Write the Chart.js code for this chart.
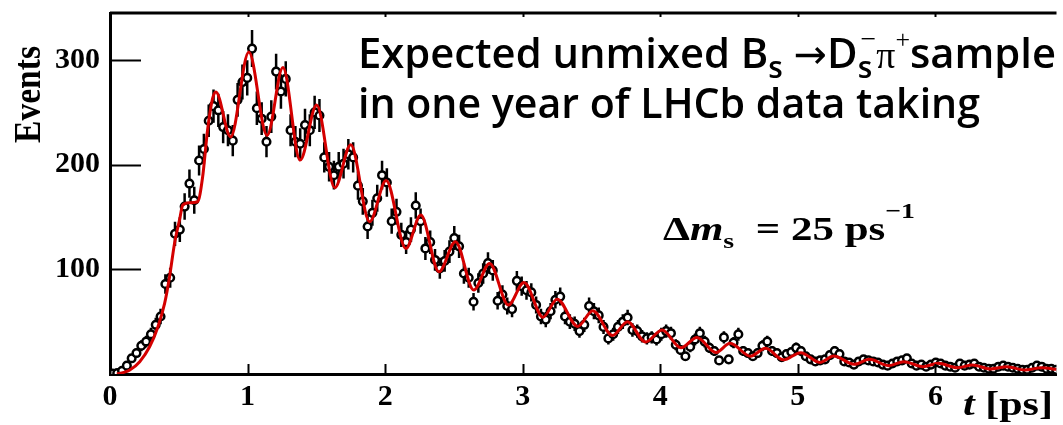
<!DOCTYPE html>
<html>
<head>
<meta charset="utf-8">
<script src="https://cdn.jsdelivr.net/npm/chart.js@4.4.1/dist/chart.umd.min.js"></script>
<title>Bs proper time</title>
<style>
  body { margin: 0; background: #fff; }
  #wrap { position: relative; width: 1063px; height: 425px; }
</style>
</head>
<body>
<div id="wrap"><canvas id="decay"></canvas></div>
<script>
// histogram binning (ps)
const binStart = 0;
const binWidth = 0.035;

// events per bin
const events = [
  0.5, 1, 3, 8, 15, 20, 27, 31, 38, 47,
  55, 86, 92, 134, 138, 160, 182, 166, 204, 215,
  242, 256, 252, 236, 233, 223, 262, 279, 283, 311,
  254, 244, 222, 246, 289, 270, 282, 233, 222, 220,
  238, 233, 250, 247, 207, 198, 190, 198, 201, 210,
  207, 180, 165, 141, 154, 168, 190, 183, 146, 155,
  133, 126, 138, 161, 146, 120, 126, 109, 101, 108,
  117, 130, 122, 96, 92, 69, 87, 96, 106, 99,
  70, 76, 65, 62, 89, 84, 80, 78, 66, 55,
  52, 60, 71, 74, 55, 50, 48, 41, 47, 65,
  60, 56, 45, 34, 38, 45, 50, 54, 42, 41,
  36, 34, 35, 33, 38, 41, 39, 28, 23, 17,
  26, 33, 39, 31, 25, 22, 13, 35, 14, 30,
  38, 22, 20, 17, 20, 27, 31, 22, 20, 16,
  19, 21, 25, 22, 17, 14, 12, 13, 14, 18,
  22, 19, 12, 11, 9, 12, 14, 13, 12, 11,
  9, 8, 10, 12, 13, 15, 10, 8, 9, 7,
  9, 11, 10, 8, 7, 6, 10, 8, 9, 10,
  7, 6, 5, 5, 7, 8, 7, 6, 5, 4,
  4, 6, 8, 7, 5, 5, 4
];

// fit curve: times (ps) and values
const fitT = [
  0.05, 0.10, 0.144, 0.216, 0.288, 0.348, 0.397, 0.433, 0.469, 0.505,
  0.529, 0.577, 0.637, 0.673, 0.709, 0.745, 0.769, 0.877, 1.009, 1.142,
  1.257, 1.382, 1.502, 1.634, 1.75, 1.887, 2.007, 2.151, 2.259, 2.391,
  2.511, 2.644, 2.759, 2.896, 3.009, 3.148, 3.25, 3.40, 3.509, 3.653,
  3.761, 3.893, 4.013, 4.15, 4.266, 4.405, 4.508, 4.655, 4.765, 4.895,
  5.02, 5.16, 5.26, 5.41, 5.52, 5.66, 5.77, 5.91, 6.02, 6.16,
  6.27, 6.40, 6.52, 6.65, 6.77, 6.88
];
const fitV = [
  0, 1.5, 3.8, 11.8, 26, 45, 67.5, 93, 124.8, 147,
  161.4, 163.6, 164.6, 188, 233, 263, 269.6, 226.6, 307.8, 228,
  293, 204.4, 257, 178, 219, 145.5, 185, 120, 152, 97.7,
  126.4, 80.2, 105.7, 66, 87.5, 54.3, 71.5, 45.5, 60.5, 36.8,
  50, 30.5, 42, 25, 35, 20.5, 29.3, 17, 24.5, 13.5,
  20.4, 11.1, 17.2, 9.3, 14, 8, 11.8, 7, 10.2, 6,
  8.6, 4.8, 7, 3.8, 6, 4.5
];

const xTickLabels = ['0', '1', '2', '3', '4', '5', '6'];
const yTickLabels = ['100', '200', '300'];

const evPts = events.map((n, i) => ({ x: binStart + binWidth * (i + 0.5), y: n }));
const fitPts = fitT.map((t, i) => ({ x: t, y: fitV[i] }));

function isStep(v, step) {
  return Math.abs(v / step - Math.round(v / step)) < 1e-6;
}

// draws a row of text pieces, squeezed or stretched to a given width
function drawRuns(ctx, runs, x, y, width) {
  let total = 0;
  runs.forEach(r => {
    ctx.font = r.f;
    r.w = r.adv != null ? r.adv : ctx.measureText(r.t).width;
    total += r.w;
  });
  ctx.save();
  ctx.translate(x, y);
  ctx.scale(width / total, 1);
  let cx = 0;
  runs.forEach(r => {
    ctx.font = r.f;
    ctx.fillText(r.t, cx, r.dy || 0);
    cx += r.w;
  });
  ctx.restore();
}

const errorBars = {
  id: 'errorBars',
  beforeDatasetsDraw(chart) {
    const ctx = chart.ctx, a = chart.chartArea;
    const xs = chart.scales.x, ys = chart.scales.y;
    ctx.save();
    ctx.beginPath();
    ctx.rect(a.left, a.top, a.right - a.left, a.bottom - a.top);
    ctx.clip();
    ctx.strokeStyle = '#000';
    ctx.lineWidth = 2.5;
    chart.data.datasets[1].data.forEach(p => {
      const e = Math.sqrt(p.y);
      const px = xs.getPixelForValue(p.x);
      ctx.beginPath();
      ctx.moveTo(px, ys.getPixelForValue(p.y + e));
      ctx.lineTo(px, ys.getPixelForValue(Math.max(p.y - e, 0)));
      ctx.stroke();
    });
    ctx.restore();
  }
};

const frame = {
  id: 'frame',
  afterDraw(chart) {
    const ctx = chart.ctx, a = chart.chartArea;
    const xs = chart.scales.x, ys = chart.scales.y;
    ctx.save();
    ctx.strokeStyle = '#000';
    ctx.fillStyle = '#000';

    ctx.lineWidth = 3;
    ctx.beginPath();
    ctx.moveTo(a.left, a.top);
    ctx.lineTo(a.right, a.top);
    ctx.stroke();

    // inner tick marks
    ctx.lineWidth = 2;
    xs.ticks.forEach(t => {
      if (!isStep(t.value, 0.2)) return;
      const px = Math.round(xs.getPixelForValue(t.value)) + 0.5;
      const len = isStep(t.value, 1) ? 10 : 6;
      ctx.beginPath();
      ctx.moveTo(px, a.bottom);
      ctx.lineTo(px, a.bottom - len);
      ctx.moveTo(px, a.top);
      ctx.lineTo(px, a.top + 4);
      ctx.stroke();
    });
    ys.ticks.forEach(t => {
      if (!isStep(t.value, 20) || t.value === 0) return;
      const py = Math.round(ys.getPixelForValue(t.value)) + 0.5;
      const len = isStep(t.value, 100) ? 31 : 5;
      ctx.beginPath();
      ctx.moveTo(a.left, py);
      ctx.lineTo(a.left + len, py);
      ctx.stroke();
    });

    // axis titles
    ctx.save();
    ctx.translate(27, 95);
    ctx.rotate(-Math.PI / 2);
    drawRuns(ctx, [{ t: 'Events', f: 'bold 37px "Liberation Serif"' }], -48, 13, 97);
    ctx.restore();
    drawRuns(ctx, [
      { t: 't', f: 'italic bold 33px "Liberation Serif"' },
      { t: ' [ps]', f: 'bold 33px "Liberation Serif"' }
    ], 963, 415, 90);

    // annotations
    const F = '600 42px "Open Sans"', FS = '600 30px "Open Sans"';
    drawRuns(ctx, [
      { t: 'Expected unmixed B', f: F },
      { t: 's', f: FS, dy: 10 },
      { t: ' ', f: F },
      { t: '\u2192', f: '40px "DejaVu Sans"' },
      { t: 'D', f: F },
      { t: 's', f: FS, dy: 10, adv: 3 },
      { t: '\u2212', f: '28px "Liberation Serif"', dy: -20 },
      { t: '\u03c0', f: '38px "Liberation Serif"' },
      { t: '+', f: '26px "Liberation Serif"', dy: -20 },
      { t: 'sample', f: F }
    ], 358, 68, 698);
    drawRuns(ctx, [{ t: 'in one year of LHCb data taking', f: F }], 358, 118, 622);

    drawRuns(ctx, [
      { t: '\u0394', f: 'bold 34px "Liberation Serif"' },
      { t: 'm', f: 'italic bold 34px "Liberation Serif"' },
      { t: 's', f: 'bold 22px "Liberation Serif"', dy: 8 },
      { t: '  = 25 ps', f: 'bold 34px "Liberation Serif"' },
      { t: '\u22121', f: 'bold 22px "Liberation Serif"', dy: -22 }
    ], 663, 240, 252);
    ctx.restore();
  }
};

const tickFont = { family: '"Liberation Serif"', size: 30, weight: 'bold' };

new Chart(document.getElementById('decay'), {
  type: 'scatter',
  data: {
    datasets: [
      {
        label: 'fit',
        data: fitPts,
        showLine: true,
        borderColor: '#d40000',
        borderWidth: 3,
        pointRadius: 0,
        cubicInterpolationMode: 'monotone',
        order: 0
      },
      {
        label: 'events',
        data: evPts,
        pointRadius: 3.8,
        borderWidth: 2.5,
        borderColor: '#000',
        backgroundColor: '#fff',
        order: 1
      }
    ]
  },
  options: {
    responsive: true,
    maintainAspectRatio: false,
    animation: false,
    layout: { padding: { top: 13, right: 0, left: 0, bottom: 0 } },
    plugins: { legend: { display: false }, tooltip: { enabled: false } },
    scales: {
      x: {
        type: 'linear',
        min: 0,
        max: 6.88,
        grid: { display: false, drawTicks: false },
        border: { color: '#000', width: 3 },
        ticks: {
          stepSize: 0.2,
          includeBounds: false,
          autoSkip: false,
          maxRotation: 0,
          padding: 5,
          color: '#000',
          font: tickFont,
          callback: v => {
            const r = String(Math.round(v));
            return isStep(v, 1) && xTickLabels.includes(r) ? r : null;
          }
        },
        afterFit: s => { s.height = 51; s.paddingLeft = 0; s.paddingRight = 0; }
      },
      y: {
        min: 0,
        max: 345,
        grid: { display: false, drawTicks: false },
        border: { color: '#000', width: 3 },
        ticks: {
          stepSize: 20,
          includeBounds: false,
          autoSkip: false,
          padding: 10,
          color: '#000',
          font: tickFont,
          callback: v => {
            const r = String(Math.round(v));
            return isStep(v, 100) && yTickLabels.includes(r) ? r : null;
          }
        },
        afterFit: s => { s.width = 110; s.paddingTop = 0; s.paddingBottom = 0; }
      }
    }
  },
  plugins: [errorBars, frame]
});
</script>
</body>
</html>
